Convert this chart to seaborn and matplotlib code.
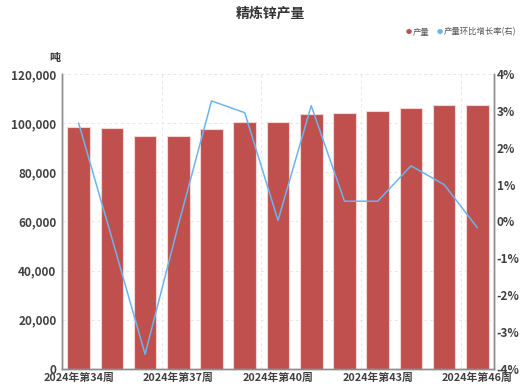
import matplotlib
matplotlib.use("Agg")
import matplotlib.pyplot as plt
import seaborn as sns
import pandas as pd
import numpy as np
from matplotlib.ticker import FuncFormatter, MultipleLocator

weeks = ["2024年第34周", "2024年第35周", "2024年第36周", "2024年第37周", "2024年第38周",
         "2024年第39周", "2024年第40周", "2024年第41周", "2024年第42周", "2024年第43周",
         "2024年第44周", "2024年第45周", "2024年第46周"]
output = [98300, 97950, 94600, 94600, 97550, 100500, 100500, 103800, 104200, 104850,
          106350, 107300, 107200]
mom_pct = [2.67, -0.45, -3.6, -0.1, 3.27, 2.95, 0.03, 3.14, 0.55, 0.55, 1.51, 1.0, -0.17]

sns.set_theme(style="white")
plt.rcParams['font.family'] = ['Noto Sans CJK SC', 'DejaVu Sans']

df = pd.DataFrame({"week": weeks, "output": output, "mom": mom_pct})

fig = plt.figure(figsize=(5.23, 3.87), dpi=100)
ax = fig.add_axes([62/523, 1-369/387, (494-62)/523, (369-74)/387])

bar_color = "#C0504D"
line_color = "#6CB4EE"
tick_color = "#404040"

sns.barplot(data=df, x="week", y="output", color=bar_color, width=0.68,
            edgecolor="#F3D6D5", linewidth=0.8, saturation=1, ax=ax, zorder=2)
ax.set_ylim(0, 120000)
ax.set_xlim(-0.5, len(weeks) - 0.5)
ax.yaxis.set_major_locator(MultipleLocator(20000))
ax.yaxis.set_major_formatter(FuncFormatter(lambda v, p: f"{int(v):,}"))
ax.set_xlabel("")
ax.set_ylabel("")
ax.set_xticks(range(0, len(weeks), 3))
ax.set_xticklabels([weeks[i] for i in range(0, len(weeks), 3)])
ax.grid(axis="y", color="#E4E8EE", linestyle=(0, (3, 3)), linewidth=0.7, zorder=0)
for b in np.arange(-0.5, len(weeks), 3):
    ax.axvline(b, color="#E4E8EE", linestyle=(0, (3, 3)), linewidth=0.7, zorder=0)

ax2 = ax.twinx()
sns.lineplot(data=df, x="week", y="mom", color=line_color, linewidth=1.1, ax=ax2, zorder=3)
ax2.set_ylim(-4, 4)
ax2.set_xlim(-0.5, len(weeks) - 0.5)
ax2.yaxis.set_major_locator(MultipleLocator(1))
ax2.yaxis.set_major_formatter(FuncFormatter(lambda v, p: f"{int(round(v))}%"))
ax2.set_ylabel("")
ax2.set_xlabel("")

for a in (ax, ax2):
    for s in ("top",):
        a.spines[s].set_visible(False)
    for s in ("left", "right", "bottom"):
        a.spines[s].set_color("#8C8C8C")
        a.spines[s].set_linewidth(1.0)
    a.tick_params(axis="both", colors=tick_color, labelsize=8.5, length=0, pad=1)
    for lab in a.get_yticklabels() + a.get_xticklabels():
        lab.set_fontweight("bold")
        lab.set_color(tick_color)
ax.tick_params(axis="x", pad=2.5, labelsize=7.8)
ax.tick_params(axis="y", pad=4)
ax2.tick_params(axis="y", pad=2)

fig.text(270/523, 1-14/387, "精炼锌产量", ha="center", va="center", fontsize=10,
         fontweight="bold", color="#333333")
fig.text(60/523, 1-58/387, "吨", ha="right", va="center", fontsize=8,
         fontweight="bold", color="#333333")

# legend
fig.text(409/523, 1-32/387, "●", ha="center", va="center", fontsize=4.5, color=bar_color)
fig.text(413/523, 1-32/387, "产量", ha="left", va="center", fontsize=6, color="#555555")
fig.text(440/523, 1-32/387, "●", ha="center", va="center", fontsize=4.5, color=line_color)
fig.text(444/523, 1-32/387, "产量环比增长率(右)", ha="left", va="center", fontsize=6, color="#555555")

fig.savefig("out.png", dpi=100)
